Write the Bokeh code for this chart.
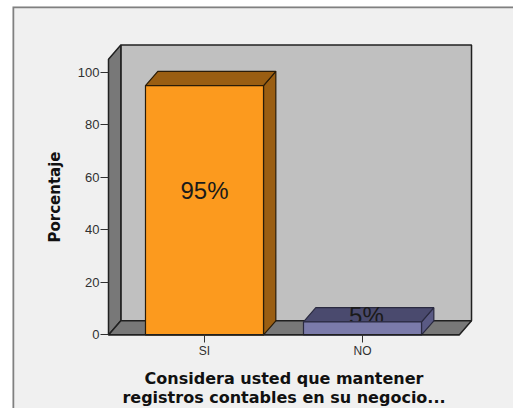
from bokeh.plotting import figure
from bokeh.models import Range1d, Label, FixedTicker
from bokeh.core.properties import value
from bokeh.embed import file_html
from bokeh.resources import INLINE

# Data
categories = ["SI", "NO"]
percentages = [95, 5]
y_ticks = [0, 20, 40, 60, 80, 100]
y_title = "Porcentaje"
x_title = "Considera usted que mantener\nregistros contables en su negocio..."
top_title = "pregunta sobre p"

# Style
FRONT = ["#fc9a1e", "#7b7baa"]
TOP = ["#9a5e12", "#4a4a6e"]
SIDE = ["#9a5e12", "#5a5a84"]
BAR_EDGE = ["#2a1c08", "#2a2a40"]
DX, DY = 0.078, 5.4     # depth of the 3D effect in data units
BW = 0.747
YMAX = 105
xs = list(range(len(categories)))
WALL_L, WALL_R = -0.6076, 1.69

W, H = 513, 408
LEFT, TOPB = 12, 6
p = figure(width=W, height=H, output_backend="svg", toolbar_location=None,
           x_range=Range1d(-1.2152, 1.9557), y_range=Range1d(-28, 125.1),
           min_border_left=LEFT, min_border_right=0, min_border_top=TOPB, min_border_bottom=0,
           margin=(0, 0, 0, 0), tools="")
p.background_fill_color = "#f0f0f0"
p.border_fill_color = "white"
p.outline_line_color = None
p.grid.visible = False

x_lo, x_hi = p.x_range.start, p.x_range.end
y_lo, y_hi = p.y_range.start, p.y_range.end
# panel frame line: left and top edges (half clipped by the frame)
p.line([x_lo, x_lo, x_hi], [y_lo, y_hi, y_hi], line_color="#808080", line_width=3.5)

p.add_layout(Label(x=165, y=H + 3, x_units="screen", y_units="screen", text=top_title, text_align="left",
                   text_baseline="alphabetic", text_font="Liberation Sans", text_font_style="bold",
                   text_font_size="15px", text_color="black"))

x0, x1 = WALL_L, WALL_R
EDGE = "#202020"
# back wall
p.quad(left=[x0 + DX], right=[x1], bottom=[DY], top=[YMAX + DY], fill_color="#c0c0c0", line_color=EDGE, line_width=1.5)
# left wall
p.patch([x0, x0 + DX, x0 + DX, x0], [0, DY, YMAX + DY, YMAX], fill_color="#787878", line_color=EDGE, line_width=1.5)
# floor
p.patch([x0, x0 + DX, x1, x1 - DX], [0, DY, DY, 0], fill_color="#787878", line_color=EDGE, line_width=1.5)

for i, (x, v) in enumerate(zip(xs, percentages)):
    l, r = x - BW / 2, x + BW / 2
    p.patch([r, r + DX, r + DX, r], [0, DY, v + DY, v], fill_color=SIDE[i], line_color=BAR_EDGE[i], line_width=1.2)
    p.patch([l, l + DX, r + DX, r], [v, v + DY, v + DY, v], fill_color=TOP[i], line_color=BAR_EDGE[i], line_width=1.2)
    if v < 10:
        p.text([x + 0.025], [v * 0.5 + 5], text=[f"{v}%"], text_align="center", text_baseline="middle",
               text_font=value("Liberation Sans"), text_font_size="24px", text_color="#1a1a1a")
    p.quad(left=[l], right=[r], bottom=[0], top=[v], fill_color=FRONT[i], line_color=BAR_EDGE[i], line_width=1.2)
    if v >= 10:
        p.text([x], [v * 0.5 + 7.5], text=[f"{v}%"], text_align="center", text_baseline="middle",
               text_font=value("Liberation Sans"), text_font_size="24px", text_color="#1a1a1a")

ya = p.yaxis[0]
ya.fixed_location = WALL_L
ya.ticker = FixedTicker(ticks=y_ticks)
ya.bounds = (0, YMAX)
ya.minor_tick_line_color = None
ya.major_tick_in = 0
ya.major_tick_out = 8
ya.major_tick_line_color = "#303030"
ya.axis_line_color = "#202020"
ya.major_label_text_font = "Liberation Sans"
ya.major_label_text_font_size = "13px"
ya.major_label_text_color = "#303030"
ya.major_label_standoff = 1
ya.axis_label = y_title
ya.axis_label_text_font = "DejaVu Sans"
ya.axis_label_text_font_style = "bold"
ya.axis_label_text_font_size = "15px"
ya.axis_label_text_color = "#111111"
ya.axis_label_standoff = 11

xa = p.xaxis[0]
xa.fixed_location = 0
xa.ticker = FixedTicker(ticks=xs)
xa.major_label_overrides = {i: c for i, c in zip(xs, categories)}
xa.bounds = (x0, x1 - DX)
xa.minor_tick_line_color = None
xa.major_tick_in = 0
xa.major_tick_out = 8
xa.major_tick_line_color = "#303030"
xa.axis_line_color = "#202020"
xa.major_label_text_font = "Liberation Sans"
xa.major_label_text_font_size = "12px"
xa.major_label_text_color = "#303030"
xa.major_label_standoff = 1
xa.axis_label = x_title
xa.axis_label_text_font = "DejaVu Sans"
xa.axis_label_text_font_style = "bold"
xa.axis_label_text_font_size = "16px"
xa.axis_label_text_line_height = 1.05
xa.axis_label_text_color = "#111111"
xa.axis_label_standoff = 8

open("out.html", "w").write(file_html(p, INLINE))
